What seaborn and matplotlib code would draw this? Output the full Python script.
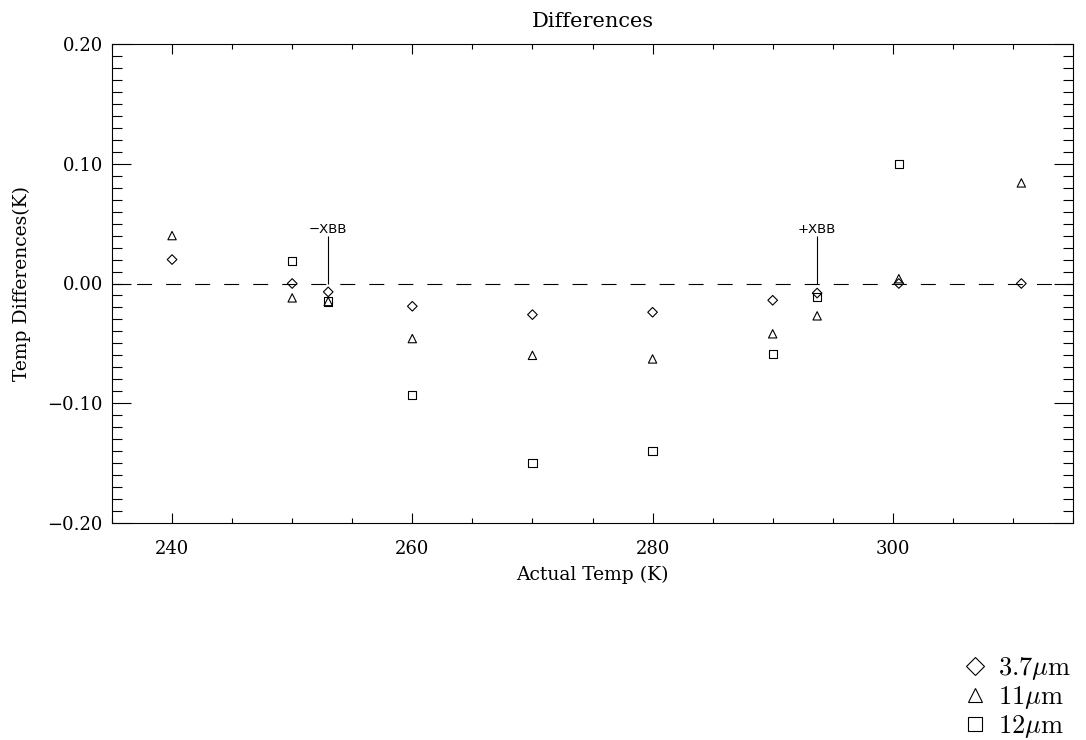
import numpy as np
import pandas as pd
import matplotlib
matplotlib.use("Agg")
import matplotlib.pyplot as plt
import seaborn as sns
from matplotlib.ticker import MultipleLocator, FuncFormatter
from matplotlib.lines import Line2D

# ---------------- data ----------------
temps_37 = [240, 250, 253, 260, 270, 280, 290, 293.7, 300.5, 310.7]
diff_37 = [0.020, 0.000, -0.007, -0.019, -0.026, -0.024, -0.014, -0.008, 0.000, 0.000]

temps_11 = [240, 250, 253, 260, 270, 280, 290, 293.7, 300.5, 310.7]
diff_11 = [0.040, -0.012, -0.015, -0.046, -0.060, -0.063, -0.042, -0.027, 0.004, 0.084]

temps_12 = [250, 253, 260, 270, 280, 290, 293.7, 300.5]
diff_12 = [0.019, -0.015, -0.093, -0.150, -0.140, -0.059, -0.011, 0.100]

band_names = ["3.7um", "11um", "12um"]
band_labels = [r"$3.7\mu{\rm m}$", r"$11\mu{\rm m}$", r"$12\mu{\rm m}$"]

xbb_temps = [253, 293.7]
xbb_labels = ["\u2212XBB", "+XBB"]
xbb_height = 0.040

title = "Differences"
xlabel = "Actual Temp (K)"
ylabel = "Temp Differences(K)"

df = pd.concat([
    pd.DataFrame({"temp": temps_37, "diff": diff_37, "band": band_names[0]}),
    pd.DataFrame({"temp": temps_11, "diff": diff_11, "band": band_names[1]}),
    pd.DataFrame({"temp": temps_12, "diff": diff_12, "band": band_names[2]}),
], ignore_index=True)

# ---------------- style ----------------
sns.set_theme(style="white")
plt.rcParams["font.family"] = ["DejaVu Serif", "DejaVu Sans"]
plt.rcParams["mathtext.fontset"] = "cm"
plt.rcParams["axes.unicode_minus"] = True
for k in ["text.color", "axes.labelcolor", "xtick.color", "ytick.color",
          "xtick.labelcolor", "ytick.labelcolor"]:
    plt.rcParams[k] = "black"

W, H = 1086, 740
fig = plt.figure(figsize=(W / 100, H / 100), dpi=100)
L, R, T, B = 112, 1073, 44, 523
ax = fig.add_axes([L / W, 1 - B / H, (R - L) / W, (B - T) / H])

markers = {"3.7um": "D", "11um": "^", "12um": "s"}
sizes = {"3.7um": 24, "11um": 36, "12um": 36}

for band in band_names:
    sub = df[df["band"] == band]
    sns.scatterplot(data=sub, x="temp", y="diff", marker=markers[band],
                    s=sizes[band], facecolor="none", edgecolor="black",
                    linewidth=0.8, ax=ax, legend=False, zorder=3)
    coll = ax.collections[-1]
    coll.set_facecolor("none")
    coll.set_edgecolor("black")

lw0 = 0.8
ax.axhline(0, color="black", lw=lw0,
           linestyle=(4, (10.8 / lw0, 10.1 / lw0)), zorder=1)

ax.vlines(xbb_temps, 0, xbb_height, color="black", lw=0.8, zorder=2)
for xt, lab in zip(xbb_temps, xbb_labels):
    ax.text(xt, xbb_height, lab, ha="center", va="bottom", fontsize=9.5,
            family=["DejaVu Sans"], color="black")

ax.set_xlim(235, 315)
ax.set_ylim(-0.2, 0.2)

ax.xaxis.set_major_locator(MultipleLocator(20))
ax.xaxis.set_minor_locator(MultipleLocator(5))
ax.yaxis.set_major_locator(MultipleLocator(0.1))
ax.yaxis.set_minor_locator(MultipleLocator(0.01))


def yfmt(v, p):
    if abs(v) < 1e-9:
        v = 0.0
    return f"{v:.2f}".replace("-", "\u2212")


ax.yaxis.set_major_formatter(FuncFormatter(yfmt))

ax.tick_params(which="both", direction="in", top=True, right=True,
               bottom=True, left=True, color="black", width=0.8,
               labelsize=13, labelcolor="black")
ax.tick_params(axis="y", which="major", length=13.5, pad=6.5)
ax.tick_params(axis="y", which="minor", length=7)
ax.tick_params(axis="x", which="major", length=7, pad=12.5)
ax.tick_params(axis="x", which="minor", length=3.5)

for sp in ax.spines.values():
    sp.set_color("black")
    sp.set_linewidth(0.8)

ax.set_xlabel(xlabel, fontsize=13.5, labelpad=5, color="black")
ax.set_ylabel(ylabel, fontsize=13.5, labelpad=12, color="black")
ax.set_title(title, fontsize=15, pad=12, color="black")

handles = [Line2D([], [], marker=markers[b], ls="none", mfc="none", mec="black",
                  mew=0.8, ms=(9 if b == "3.7um" else 10)) for b in band_names]
fig.legend(handles, band_labels, loc="upper left",
           bbox_to_anchor=(962 / W, 1 - 655 / H), frameon=False,
           fontsize=19, borderpad=0, labelspacing=0.08, handlelength=1.0,
           handletextpad=0.35, borderaxespad=0, labelcolor="black")

fig.savefig("out.png", dpi=100)
